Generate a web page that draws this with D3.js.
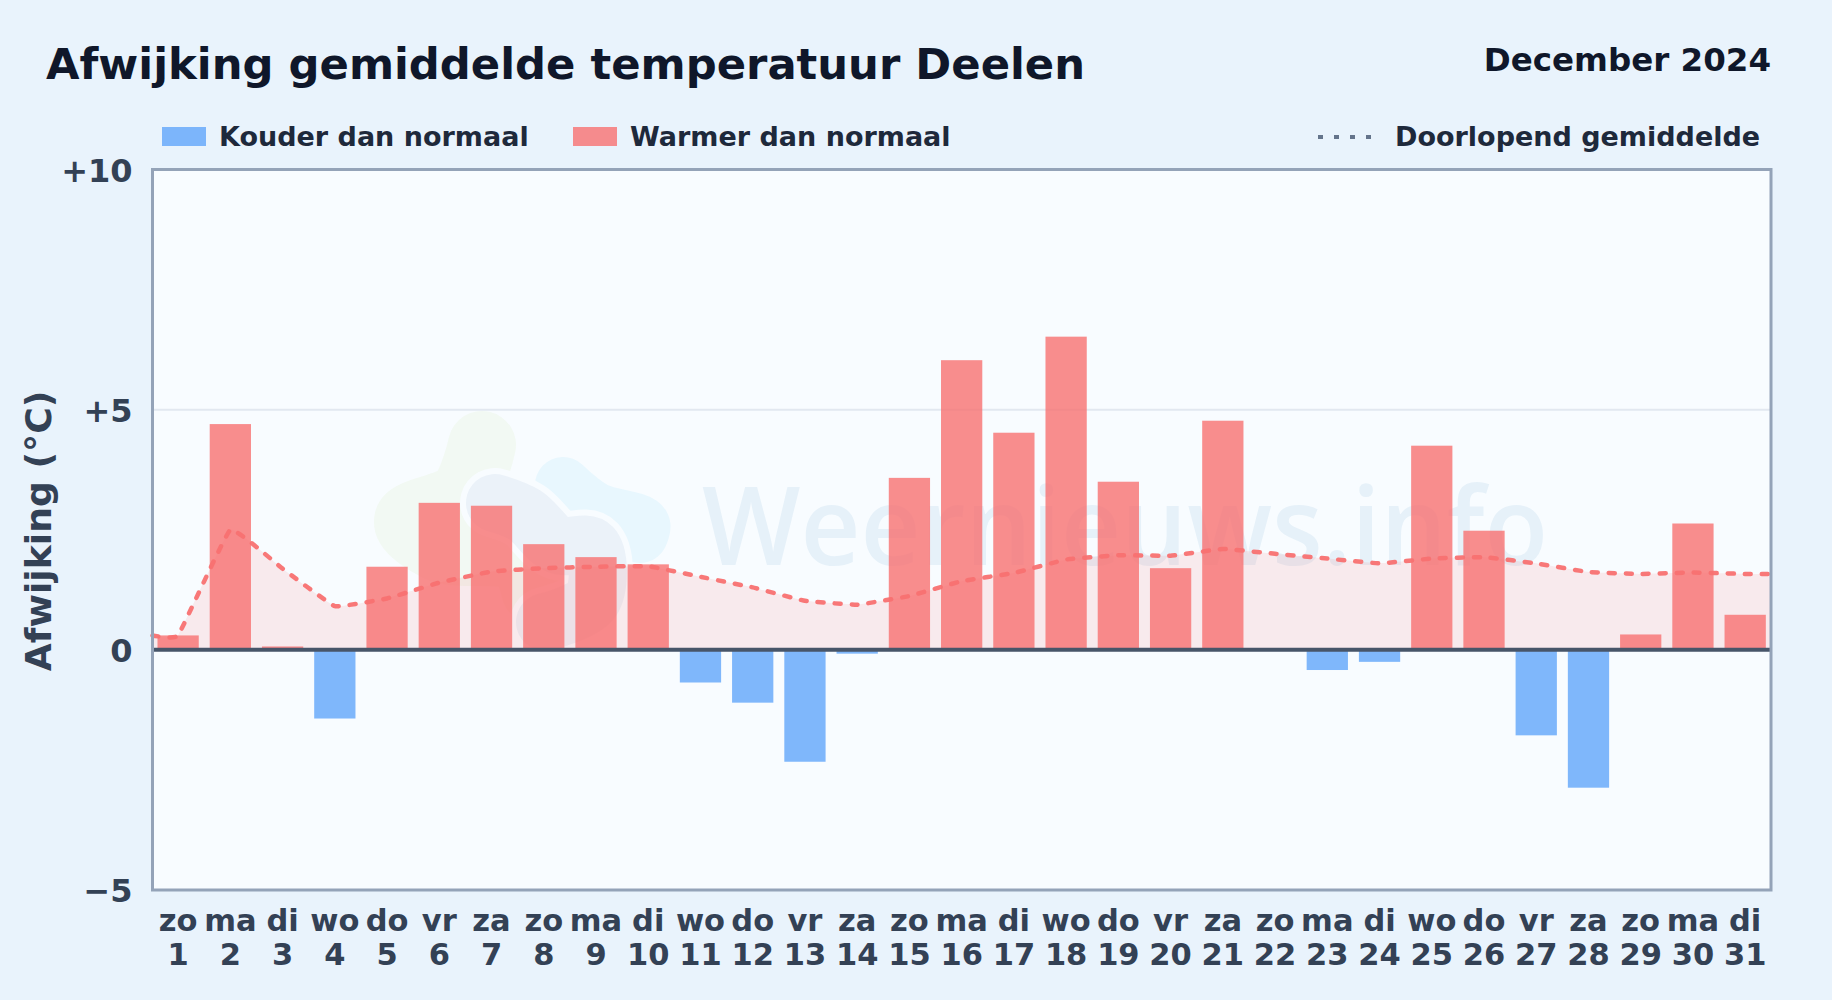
<!DOCTYPE html>
<html lang="nl">
<head>
<meta charset="utf-8">
<title>Afwijking gemiddelde temperatuur Deelen</title>
<script src="https://cdn.jsdelivr.net/npm/d3@7"></script>
<style>
  html, body { margin: 0; padding: 0; background: #e9f3fc; }
  svg { display: block; }
  text { font-family: "DejaVu Sans", sans-serif; font-weight: 700; }
</style>
</head>
<body>
<svg></svg>
<script>
// values
const days = ["1","2","3","4","5","6","7","8","9","10","11","12","13","14","15","16","17","18","19","20","21","22","23","24","25","26","27","28","29","30","31"];
const weekdays = ["zo","ma","di","wo","do","vr","za","zo","ma","di","wo","do","vr","za","zo","ma","di","wo","do","vr","za","zo","ma","di","wo","do","vr","za","zo","ma","di"];
const deviation = [0.3,4.7,0.07,-1.43,1.73,3.06,3.0,2.2,1.93,1.78,-0.68,-1.1,-2.33,-0.08,3.58,6.03,4.52,6.52,3.5,1.7,4.77,0,-0.42,-0.25,4.25,2.48,-1.78,-2.87,0.32,2.63,0.73];
const runningMean = [0.3,2.5,1.69,0.91,1.07,1.4,1.63,1.7,1.73,1.74,1.52,1.3,1.02,0.94,1.12,1.43,1.6,1.88,1.97,1.96,2.1,2.0,1.9,1.8,1.9,1.93,1.8,1.62,1.58,1.61,1.58];
const yTicks = [-5, 0, 5, 10];
const yTickLabels = ["−5", "0", "+5", "+10"];

const width = 1832;
const height = 1000;
const plot = { left: 152.5, right: 1771, top: 169.5, bottom: 890 };

const coldColor = "#60a5fa";
const warmColor = "#f87171";

const svg = d3.select("svg")
    .attr("width", width)
    .attr("height", height)
    .attr("viewBox", `0 0 ${width} ${height}`);

const scaleX = d3.scaleBand()
    .domain(days)
    .range([plot.left - 0.5, plot.right + 0.3])
    .paddingInner(0.21)
    .paddingOuter(0.105);

const scaleY = d3.scaleLinear()
    .domain([-5, 10])
    .range([plot.bottom, plot.top]);

const centerX = d => scaleX(d) + scaleX.bandwidth() / 2;

// plot background
svg.append("rect")
    .attr("x", plot.left)
    .attr("y", plot.top)
    .attr("width", plot.right - plot.left)
    .attr("height", plot.bottom - plot.top)
    .attr("fill", "#f8fcff");

drawWatermark();

// gridline at +5
svg.append("line")
    .attr("x1", plot.left)
    .attr("x2", plot.right)
    .attr("y1", scaleY(5))
    .attr("y2", scaleY(5))
    .attr("stroke", "#e2e8f0")
    .attr("stroke-width", 2);

// running mean, carried on to both plot edges
const meanPoints = [{ x: plot.left, v: runningMean[0] }]
    .concat(days.map((d, i) => ({ x: centerX(d), v: runningMean[i] })))
    .concat([{ x: plot.right, v: runningMean[runningMean.length - 1] }]);

const curve = d3.curveCardinal.tension(0.75);

svg.append("path")
    .datum(meanPoints)
    .attr("fill", warmColor)
    .attr("fill-opacity", 0.13)
    .attr("d", d3.area().x(d => d.x).y0(scaleY(0)).y1(d => scaleY(d.v)).curve(curve));

// bars
svg.selectAll(".bar")
    .data(days)
    .enter()
    .append("rect")
    .attr("class", "bar")
    .attr("x", d => scaleX(d))
    .attr("width", scaleX.bandwidth())
    .attr("y", (d, i) => scaleY(Math.max(0, deviation[i])))
    .attr("height", (d, i) => Math.abs(scaleY(deviation[i]) - scaleY(0)))
    .attr("fill", (d, i) => deviation[i] < 0 ? coldColor : warmColor)
    .attr("fill-opacity", 0.8);

svg.append("path")
    .datum(meanPoints)
    .attr("fill", "none")
    .attr("stroke", warmColor)
    .attr("stroke-opacity", 0.95)
    .attr("stroke-width", 4.5)
    .attr("stroke-linecap", "round")
    .attr("stroke-dasharray", "6 11")
    .attr("d", d3.line().x(d => d.x).y(d => scaleY(d.v)).curve(curve));

// zero line and frame
svg.append("line")
    .attr("x1", plot.left)
    .attr("x2", plot.right)
    .attr("y1", scaleY(0))
    .attr("y2", scaleY(0))
    .attr("stroke", "#475569")
    .attr("stroke-width", 4);

svg.append("rect")
    .attr("x", plot.left)
    .attr("y", plot.top)
    .attr("width", plot.right - plot.left)
    .attr("height", plot.bottom - plot.top)
    .attr("fill", "none")
    .attr("stroke", "#94a3b8")
    .attr("stroke-width", 3);

// axes
const axisY = d3.axisLeft(scaleY)
    .tickValues(yTicks)
    .tickFormat((d, i) => yTickLabels[i])
    .tickSize(0)
    .tickPadding(20);

const gY = svg.append("g")
    .attr("transform", `translate(${plot.left}, 0)`)
    .call(axisY);
gY.select(".domain").remove();
gY.selectAll("text")
    .attr("font-size", 32)
    .attr("dy", "0.36em")
    .attr("fill", "#334155");

const axisX = d3.axisBottom(scaleX).tickSize(0).tickFormat("");
const gX = svg.append("g")
    .attr("transform", `translate(0, ${plot.bottom})`)
    .call(axisX);
gX.select(".domain").remove();
gX.selectAll(".tick text").each(function (d, i) {
    const t = d3.select(this)
        .attr("y", 0)
        .attr("dy", null)
        .attr("text-anchor", "middle")
        .attr("font-size", 30.5)
        .attr("fill", "#334155");
    t.append("tspan").attr("x", 0).attr("y", 41).text(weekdays[i]);
    t.append("tspan").attr("x", 0).attr("y", 75).text(days[i]);
});

svg.append("text")
    .attr("transform", `translate(51, 531) rotate(-90)`)
    .attr("text-anchor", "middle")
    .attr("font-size", 36.2)
    .attr("fill", "#334155")
    .text("Afwijking (°C)");

// titles
svg.append("text")
    .attr("x", 46)
    .attr("y", 79)
    .attr("font-size", 43.3)
    .attr("fill", "#0f172a")
    .text("Afwijking gemiddelde temperatuur Deelen");

svg.append("text")
    .attr("x", 1771)
    .attr("y", 70.5)
    .attr("text-anchor", "end")
    .attr("font-size", 32.5)
    .attr("fill", "#0f172a")
    .text("December 2024");

// legend
drawSwatch(162, coldColor);
drawLegendText(219, "Kouder dan normaal");
drawSwatch(573, warmColor);
drawLegendText(630, "Warmer dan normaal");

svg.append("line")
    .attr("x1", 1318)
    .attr("x2", 1374)
    .attr("y1", 137)
    .attr("y2", 137)
    .attr("stroke", "#64748b")
    .attr("stroke-width", 4)
    .attr("stroke-dasharray", "5 11");
drawLegendText(1395, "Doorlopend gemiddelde");

function drawSwatch(x, color) {
    svg.append("rect")
        .attr("x", x)
        .attr("y", 127)
        .attr("width", 44)
        .attr("height", 19)
        .attr("fill", color)
        .attr("fill-opacity", 0.8);
}

function drawLegendText(x, label) {
    svg.append("text")
        .attr("x", x)
        .attr("y", 146)
        .attr("font-size", 27)
        .attr("fill", "#1e293b")
        .text(label);
}

// faint logo and site name behind the bars
function drawWatermark() {
    const g = svg.append("g");
    const blob = d3.line().curve(d3.curveCatmullRom);
    const shapes = [
        { pts: [[482,445],[462,495],[408,521],[440,548],[520,558],[535,590]], w: 68, color: "#84cc16", op: 0.05 },
        { pts: [[563,485],[595,510],[642,525],[640,535]], w: 56, color: "#38bdf8", op: 0.08 },
        { pts: [[495,503],[525,515],[558,545],[592,547],[592,600],[545,622]], w: 58, color: "#1e5a96", op: 0.06 }
    ];
    shapes.forEach(s => {
        g.append("path")
            .attr("d", blob(s.pts))
            .attr("fill", "none")
            .attr("stroke", "#f8fcff")
            .attr("stroke-width", s.w + 12)
            .attr("stroke-linecap", "round")
            .attr("stroke-linejoin", "round");
        g.append("path")
            .attr("d", blob(s.pts))
            .attr("fill", "none")
            .attr("stroke", s.color)
            .attr("stroke-opacity", s.op)
            .attr("stroke-width", s.w)
            .attr("stroke-linecap", "round")
            .attr("stroke-linejoin", "round");
    });
    g.append("text")
        .attr("x", 702)
        .attr("y", 565)
        .attr("textLength", 846)
        .attr("lengthAdjust", "spacingAndGlyphs")
        .attr("font-size", 109)
        .attr("fill", "#1e6fb8")
        .attr("fill-opacity", 0.08)
        .style("font-family", "'Open Sans', sans-serif")
        .style("font-weight", 600)
        .text("Weernieuws.info");
}
</script>
</body>
</html>
